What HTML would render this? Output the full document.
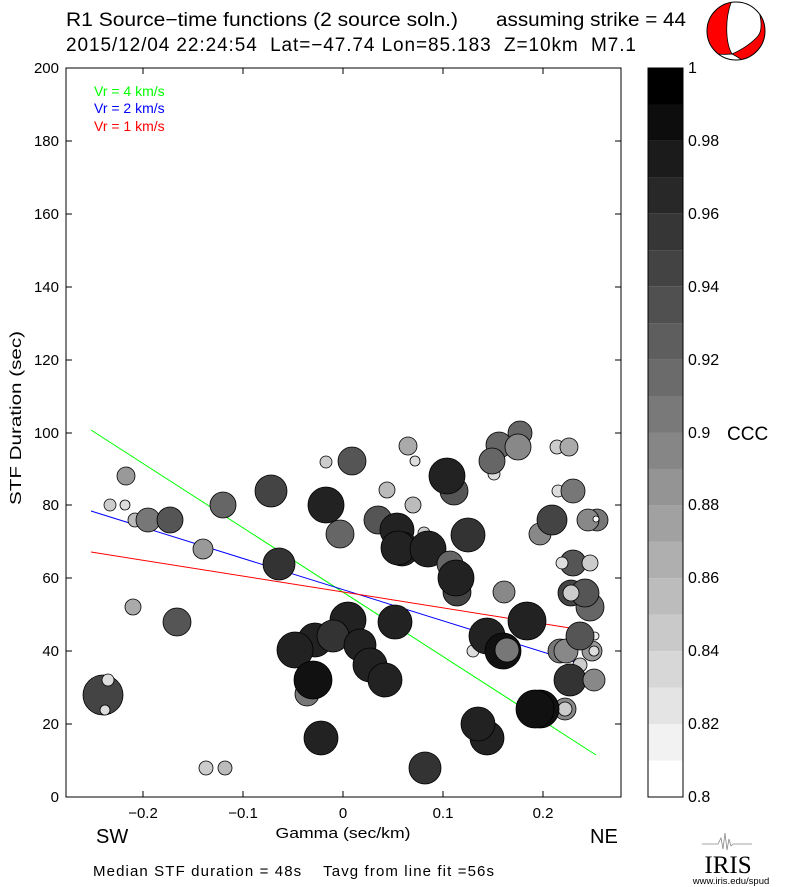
<!DOCTYPE html>
<html><head><meta charset="utf-8"><style>
html,body{margin:0;padding:0;background:#fff}
svg{display:block;font-family:"Liberation Sans",Arial,sans-serif}
</style></head><body>
<svg width="785" height="887" viewBox="0 0 785 887" xmlns="http://www.w3.org/2000/svg">
<defs><clipPath id="bb"><circle cx="736" cy="31" r="29"/></clipPath></defs>
<rect width="785" height="887" fill="#fff"/>
<text x="66" y="26" font-size="19" textLength="392" lengthAdjust="spacingAndGlyphs">R1 Source−time functions (2 source soln.)</text>
<text x="496" y="26" font-size="19" textLength="190" lengthAdjust="spacingAndGlyphs">assuming strike = 44</text>
<text x="66" y="51" font-size="19" textLength="570" lengthAdjust="spacing" xml:space="preserve">2015/12/04 22:24:54  Lat=−47.74 Lon=85.183  Z=10km  M7.1</text>
<!-- beachball -->
<circle cx="736" cy="31" r="29" fill="#f00"/>
<g clip-path="url(#bb)" fill="#fff" stroke="#000" stroke-width="0.8">
<path d="M732,0 L754,0 C762,14 763,30 758,36 C750,45 741,50 732,54 C726,44 724,20 732,0 Z"/>
<path d="M718,54 C724,55 728,54 732,54 C736,56 740,58 744,62 L718,62 Z"/>
</g>
<circle cx="736" cy="31" r="29" fill="none" stroke="#000" stroke-width="1"/>
<!-- lines -->
<g stroke-width="1" fill="none">
<line x1="91" y1="430" x2="596" y2="755" stroke="#0f0"/>
<line x1="91" y1="511" x2="575" y2="662" stroke="#00f"/>
<line x1="91" y1="552" x2="570" y2="628" stroke="#f00"/>
</g>
<g stroke="#000" stroke-width="0.8">
<circle cx="103" cy="695" r="20" fill="#444"/>
<circle cx="108" cy="680" r="6" fill="#ddd"/>
<circle cx="105" cy="710" r="5" fill="#ddd"/>
<circle cx="126" cy="476" r="9" fill="#999"/>
<circle cx="110" cy="505" r="6" fill="#ccc"/>
<circle cx="125" cy="505" r="5" fill="#ddd"/>
<circle cx="135" cy="520" r="7" fill="#bbb"/>
<circle cx="148" cy="520" r="12" fill="#777"/>
<circle cx="170" cy="520" r="13" fill="#555"/>
<circle cx="203" cy="549" r="10" fill="#999"/>
<circle cx="133" cy="607" r="8" fill="#aaa"/>
<circle cx="177" cy="622" r="14" fill="#555"/>
<circle cx="206" cy="768" r="7" fill="#ccc"/>
<circle cx="225" cy="768" r="7" fill="#bbb"/>
<circle cx="223" cy="505" r="13" fill="#666"/>
<circle cx="271" cy="491" r="16" fill="#444"/>
<circle cx="279" cy="564" r="16" fill="#333"/>
<circle cx="326" cy="462" r="6" fill="#ccc"/>
<circle cx="340" cy="534" r="14" fill="#666"/>
<circle cx="326" cy="505" r="18" fill="#222"/>
<circle cx="352" cy="461" r="14" fill="#555"/>
<circle cx="307" cy="694" r="12" fill="#777"/>
<circle cx="348" cy="620" r="18" fill="#222"/>
<circle cx="315" cy="640" r="17" fill="#222"/>
<circle cx="295" cy="650" r="18" fill="#222"/>
<circle cx="333" cy="636" r="16" fill="#333"/>
<circle cx="360" cy="645" r="16" fill="#222"/>
<circle cx="370" cy="665" r="17" fill="#222"/>
<circle cx="385" cy="680" r="17" fill="#222"/>
<circle cx="313" cy="680" r="19" fill="#111"/>
<circle cx="321" cy="738" r="17" fill="#222"/>
<circle cx="395" cy="622" r="17" fill="#222"/>
<circle cx="408" cy="446" r="9" fill="#aaa"/>
<circle cx="415" cy="461" r="5" fill="#ddd"/>
<circle cx="454" cy="491" r="14" fill="#555"/>
<circle cx="447" cy="476" r="18" fill="#222"/>
<circle cx="387" cy="490" r="8" fill="#bbb"/>
<circle cx="413" cy="505" r="8" fill="#bbb"/>
<circle cx="378" cy="520" r="14" fill="#555"/>
<circle cx="424" cy="533" r="6" fill="#ccc"/>
<circle cx="397" cy="530" r="17" fill="#222"/>
<circle cx="402" cy="549" r="17" fill="#222"/>
<circle cx="398" cy="548" r="17" fill="#222"/>
<circle cx="428" cy="549" r="18" fill="#222"/>
<circle cx="450" cy="564" r="13" fill="#666"/>
<circle cx="457" cy="592" r="14" fill="#444"/>
<circle cx="456" cy="578" r="18" fill="#222"/>
<circle cx="468" cy="535" r="17" fill="#333"/>
<circle cx="504" cy="592" r="11" fill="#888"/>
<circle cx="473" cy="651" r="6" fill="#ddd"/>
<circle cx="487" cy="636" r="18" fill="#222"/>
<circle cx="503" cy="651" r="18" fill="#111"/>
<circle cx="507" cy="650" r="12" fill="#777"/>
<circle cx="527" cy="621" r="19" fill="#222"/>
<circle cx="487" cy="738" r="17" fill="#222"/>
<circle cx="478" cy="724" r="17" fill="#222"/>
<circle cx="565" cy="709" r="11" fill="#888"/>
<circle cx="565" cy="709" r="7" fill="#ccc"/>
<circle cx="540" cy="709" r="19" fill="#111"/>
<circle cx="535" cy="709" r="19" fill="#111"/>
<circle cx="425" cy="768" r="16" fill="#333"/>
<circle cx="494" cy="474" r="6" fill="#ddd"/>
<circle cx="520" cy="433" r="12" fill="#666"/>
<circle cx="499" cy="445" r="13" fill="#666"/>
<circle cx="518" cy="447" r="13" fill="#888"/>
<circle cx="492" cy="461" r="13" fill="#666"/>
<circle cx="557" cy="447" r="7" fill="#ccc"/>
<circle cx="569" cy="447" r="9" fill="#aaa"/>
<circle cx="558" cy="491" r="6" fill="#ddd"/>
<circle cx="573" cy="491" r="12" fill="#777"/>
<circle cx="540" cy="534" r="11" fill="#888"/>
<circle cx="552" cy="520" r="15" fill="#444"/>
<circle cx="597" cy="520" r="11" fill="#777"/>
<circle cx="588" cy="520" r="11" fill="#888"/>
<circle cx="596" cy="519" r="3" fill="#fff"/>
<circle cx="573" cy="563" r="13" fill="#555"/>
<circle cx="562" cy="563" r="6" fill="#ddd"/>
<circle cx="590" cy="563" r="8" fill="#ccc"/>
<circle cx="590" cy="607" r="14" fill="#666"/>
<circle cx="571" cy="593" r="13" fill="#444"/>
<circle cx="585" cy="593" r="14" fill="#555"/>
<circle cx="571" cy="593" r="8" fill="#ccc"/>
<circle cx="595" cy="636" r="4" fill="#eee"/>
<circle cx="580" cy="665" r="7" fill="#ccc"/>
<circle cx="560" cy="651" r="12" fill="#777"/>
<circle cx="592" cy="651" r="10" fill="#999"/>
<circle cx="594" cy="651" r="5" fill="#ddd"/>
<circle cx="566" cy="651" r="12" fill="#888"/>
<circle cx="580" cy="636" r="14" fill="#555"/>
<circle cx="570" cy="680" r="16" fill="#333"/>
<circle cx="594" cy="680" r="11" fill="#888"/>
</g>
<!-- axes box -->
<rect x="66" y="68" width="555" height="729" fill="none" stroke="#000" stroke-width="1"/>
<g stroke="#000" stroke-width="1">
<line x1="66" y1="68" x2="72" y2="68"/><line x1="615" y1="68" x2="621" y2="68"/>
<line x1="66" y1="141" x2="72" y2="141"/><line x1="615" y1="141" x2="621" y2="141"/>
<line x1="66" y1="214" x2="72" y2="214"/><line x1="615" y1="214" x2="621" y2="214"/>
<line x1="66" y1="287" x2="72" y2="287"/><line x1="615" y1="287" x2="621" y2="287"/>
<line x1="66" y1="360" x2="72" y2="360"/><line x1="615" y1="360" x2="621" y2="360"/>
<line x1="66" y1="433" x2="72" y2="433"/><line x1="615" y1="433" x2="621" y2="433"/>
<line x1="66" y1="505" x2="72" y2="505"/><line x1="615" y1="505" x2="621" y2="505"/>
<line x1="66" y1="578" x2="72" y2="578"/><line x1="615" y1="578" x2="621" y2="578"/>
<line x1="66" y1="651" x2="72" y2="651"/><line x1="615" y1="651" x2="621" y2="651"/>
<line x1="66" y1="724" x2="72" y2="724"/><line x1="615" y1="724" x2="621" y2="724"/>
<line x1="143" y1="797" x2="143" y2="791"/><line x1="143" y1="68" x2="143" y2="74"/>
<line x1="243" y1="797" x2="243" y2="791"/><line x1="243" y1="68" x2="243" y2="74"/>
<line x1="343" y1="797" x2="343" y2="791"/><line x1="343" y1="68" x2="343" y2="74"/>
<line x1="443" y1="797" x2="443" y2="791"/><line x1="443" y1="68" x2="443" y2="74"/>
<line x1="543" y1="797" x2="543" y2="791"/><line x1="543" y1="68" x2="543" y2="74"/>
</g>
<g font-size="15" text-anchor="end">
<text x="59" y="73">200</text><text x="59" y="146">180</text><text x="59" y="219">160</text>
<text x="59" y="292">140</text><text x="59" y="365">120</text><text x="59" y="438">100</text>
<text x="59" y="510">80</text><text x="59" y="583">60</text><text x="59" y="656">40</text>
<text x="59" y="729">20</text><text x="59" y="802">0</text>
</g>
<g font-size="15" text-anchor="middle">
<text x="143" y="818">−0.2</text><text x="243" y="818">−0.1</text><text x="343" y="818">0</text>
<text x="443" y="818">0.1</text><text x="543" y="818">0.2</text>
</g>
<text x="343" y="838" font-size="15" text-anchor="middle" textLength="135" lengthAdjust="spacingAndGlyphs">Gamma (sec/km)</text>
<text transform="translate(21,418) rotate(-90)" font-size="16" text-anchor="middle" textLength="174" lengthAdjust="spacingAndGlyphs">STF Duration (sec)</text>
<text x="96" y="843" font-size="20">SW</text>
<text x="590" y="843" font-size="20">NE</text>
<text x="93" y="876" font-size="15" textLength="401" lengthAdjust="spacing" xml:space="preserve">Median STF duration = 48s    Tavg from line fit =56s</text>
<text x="94" y="96" font-size="14" fill="#0f0">Vr = 4 km/s</text>
<text x="94" y="113" font-size="14" fill="#00f">Vr = 2 km/s</text>
<text x="94" y="131" font-size="14" fill="#f00">Vr = 1 km/s</text>
<!-- colorbar -->
<g>
<rect x="648" y="68.0" width="35" height="36.5" fill="#000"/>
<rect x="648" y="104.4" width="35" height="36.5" fill="#0d0d0d"/>
<rect x="648" y="140.9" width="35" height="36.5" fill="#1b1b1b"/>
<rect x="648" y="177.3" width="35" height="36.5" fill="#282828"/>
<rect x="648" y="213.8" width="35" height="36.5" fill="#363636"/>
<rect x="648" y="250.2" width="35" height="36.5" fill="#434343"/>
<rect x="648" y="286.7" width="35" height="36.5" fill="#505050"/>
<rect x="648" y="323.1" width="35" height="36.5" fill="#5e5e5e"/>
<rect x="648" y="359.6" width="35" height="36.5" fill="#6b6b6b"/>
<rect x="648" y="396.0" width="35" height="36.5" fill="#797979"/>
<rect x="648" y="432.5" width="35" height="36.5" fill="#868686"/>
<rect x="648" y="468.9" width="35" height="36.5" fill="#949494"/>
<rect x="648" y="505.4" width="35" height="36.5" fill="#a1a1a1"/>
<rect x="648" y="541.8" width="35" height="36.5" fill="#afafaf"/>
<rect x="648" y="578.3" width="35" height="36.5" fill="#bcbcbc"/>
<rect x="648" y="614.7" width="35" height="36.5" fill="#c9c9c9"/>
<rect x="648" y="651.2" width="35" height="36.5" fill="#d7d7d7"/>
<rect x="648" y="687.6" width="35" height="36.5" fill="#e4e4e4"/>
<rect x="648" y="724.1" width="35" height="36.5" fill="#f2f2f2"/>
<rect x="648" y="760.5" width="35" height="36.5" fill="#fff"/>
<rect x="648" y="68" width="35" height="729" fill="none" stroke="#000"/>
</g>
<g font-size="16">
<text x="688" y="73">1</text><text x="688" y="146">0.98</text><text x="688" y="219">0.96</text>
<text x="688" y="292">0.94</text><text x="688" y="365">0.92</text><text x="688" y="438">0.9</text>
<text x="688" y="510">0.88</text><text x="688" y="583">0.86</text><text x="688" y="656">0.84</text>
<text x="688" y="729">0.82</text><text x="688" y="802">0.8</text>
<text x="727" y="440" font-size="19">CCC</text>
</g>
<!-- IRIS logo -->
<path d="M702,844 L718,844 L721,838 L723,849 L725,833 L727,850 L729,839 L731,846 L733,844 L752,844" stroke="#888" fill="none" stroke-width="0.8"/>
<text x="728" y="873" font-size="25" font-family="Liberation Serif,serif" text-anchor="middle">IRIS</text>
<text x="731" y="884" font-size="9.5" text-anchor="middle">www.iris.edu/spud</text>
</svg>
</body></html>
